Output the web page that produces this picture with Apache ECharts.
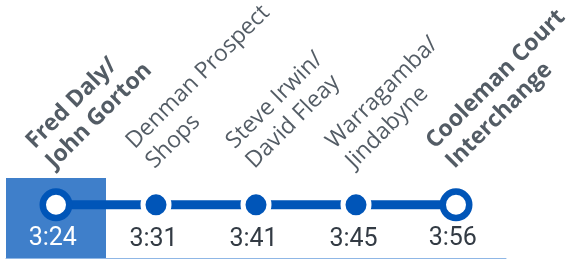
<!DOCTYPE html>
<html lang="en">
<head>
    <meta charset="UTF-8">
    <title></title>
    <style>
        html, body { margin: 0; padding: 0; background: #fff; }
    </style>
</head>
<body>
<div id="main" style="width: 566px;height: 259px"></div>
<script src="https://cdn.jsdelivr.net/npm/echarts@6/dist/echarts.min.js"></script>
<script>
    // stops along the route (two-line names), departure times
    var stops = ['Fred Daly/\nJohn Gorton', 'Denman Prospect\nShops', 'Steve Irwin/\nDavid Fleay', 'Warragamba/\nJindabyne', 'Cooleman Court\nInterchange'];
    var times = ['3:24', '3:31', '3:41', '3:45', '3:56'];
    var timingPoint = [true, false, false, false, true];
    var currentStop = 0;

    var BLUE = '#0055b8';
    var LINE_Y = 0.665;   // where the route line sits in the strip

    var myChart = echarts.init(document.getElementById('main'));

    var lineData = [];
    for (var i = 0; i < stops.length; i++) {
        var tp = timingPoint[i];
        var size = tp ? 26.5 : 26;
        lineData.push({
            value: LINE_Y,
            symbolSize: size,
            itemStyle: tp ? {color: '#fff', borderColor: BLUE, borderWidth: 6.5}
                          : {color: BLUE, borderColor: '#fff', borderWidth: 5},
            label: {
                position: [size / 2, size / 2 + 37],
                color: i === currentStop ? '#fff' : '#333b44'
            }
        });
    }

    var option = {
        animation: false,
        grid: {left: 6, right: 60, top: 178, bottom: 1},
        xAxis: {
            type: 'category',
            data: stops,
            boundaryGap: true,
            axisLine: {show: true, lineStyle: {color: '#8fb7e6', width: 1}},
            axisTick: {show: false},
            axisLabel: {show: false}
        },
        yAxis: {type: 'value', min: 0, max: 1, show: false},
        series: [
            {
                type: 'bar',
                barWidth: '100%',
                silent: true,
                itemStyle: {color: '#3f7fca'},
                data: stops.map(function (s, i) { return i === currentStop ? 1 : null; }),
                z: 1
            },
            {
                type: 'line',
                symbol: 'circle',
                silent: true,
                lineStyle: {color: BLUE, width: 9},
                data: lineData,
                label: {
                    show: true,
                    align: 'center',
                    verticalAlign: 'middle',
                    fontFamily: 'Roboto',
                    fontSize: 25,
                    formatter: function (p) { return times[p.dataIndex]; }
                },
                z: 3
            },
            {
                type: 'scatter',
                symbolSize: 0,
                silent: true,
                data: stops.map(function () { return LINE_Y; }),
                label: {
                    show: true,
                    position: [-16, -50],
                    rotate: 45,
                    align: 'left',
                    verticalAlign: 'middle',
                    color: '#28333e',
                    fontFamily: 'Open Sans',
                    fontWeight: 500,
                    fontSize: 23,
                    lineHeight: 28,
                    formatter: function (p) {
                        return timingPoint[p.dataIndex] ? '{b|' + stops[p.dataIndex].replace('\n', '}\n{b|') + '}' : stops[p.dataIndex];
                    },
                    rich: {
                        b: {fontWeight: 700, fontFamily: 'Open Sans', fontSize: 23, lineHeight: 28, color: '#28333e'}
                    }
                },
                z: 4
            }
        ]
    };

    myChart.setOption(option);
</script>
</body>
</html>
